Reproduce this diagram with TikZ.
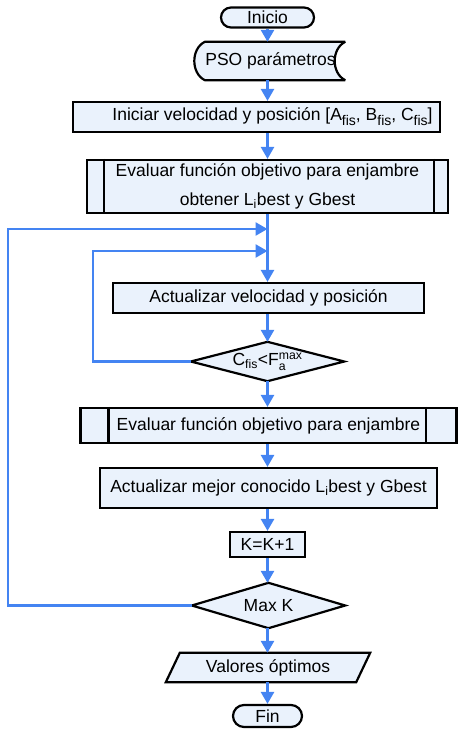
\documentclass[tikz,border=0pt]{standalone}
\usepackage{fontspec}
\usepackage{amsmath}
\setmainfont{Liberation Sans}
\usetikzlibrary{arrows.meta,calc,backgrounds}
\definecolor{boxfill}{RGB}{234,242,252}
\definecolor{arrowblue}{RGB}{68,132,242}
\newcommand\subx[1]{\raisebox{-0.28em}{\fontsize{14}{14}\selectfont #1}}
\tikzset{
 base/.style={inner sep=0pt, font=\fontsize{17.5}{21}\selectfont, align=center},
 box/.style={base, draw=black, line width=2.2pt, fill=boxfill},
 term/.style={box, rounded corners=10pt},
 ghost/.style={base},
 shapeline/.style={draw=black, line width=2.2pt, fill=boxfill, line join=miter},
 curveline/.style={draw=black, line width=2.2pt, fill=boxfill, line join=bevel},
 thinsep/.style={draw=black, line width=2.2pt},
 arr/.style={draw=arrowblue, line width=2.6pt, -{Triangle[width=13pt,length=12pt]}},
}
\begin{document}
\begin{tikzpicture}[x=1pt,y=-1pt]
\useasboundingbox (0,0) rectangle (474,737);
% nodes
\node[term, minimum width=93pt, minimum height=20pt] (ini) at (267.5,17.5) {Inicio};
\node[ghost, minimum width=153pt, minimum height=38pt] (pso) at (268.5,61) {\hspace*{4pt}PSO parámetros};
\node[box, minimum width=367pt, minimum height=30pt] (init) at (256.5,117) {};
\node[ghost] (initt) at (272.5,117) {Iniciar velocidad y posición [A\subx{fis}, B\subx{fis}, C\subx{fis}]};
\node[box, minimum width=361pt, minimum height=53pt, font=\fontsize{17.5}{29}\selectfont] (eval1) at (267.5,186.5) {Evaluar función objetivo para enjambre\\obtener L\textsubscript{i}best y Gbest};
\node[box, minimum width=311pt, minimum height=30pt] (act1) at (268.5,298) {Actualizar velocidad y posición};
\node[ghost, minimum width=153pt, minimum height=39pt] (dia1) at (267.5,361.5) {C$_\text{fis}$<F$_\text{a}^\text{max}$};
\node[box, minimum width=376pt, minimum height=35pt] (eval2) at (268.5,425.5) {Evaluar función objetivo para enjambre};
\node[box, minimum width=337pt, minimum height=40pt] (act2) at (268.5,488) {Actualizar mejor conocido L\textsubscript{i}best y Gbest};
\node[box, minimum width=75pt, minimum height=25pt] (kk) at (267.5,544.5) {K=K+1};
\node[ghost, minimum width=153pt, minimum height=45pt] (dia2) at (268.5,605.5) {Max K};
\node[ghost, minimum width=204pt, minimum height=29pt] (val) at (268,667.5) {Valores óptimos};
\node[term, minimum width=69pt, minimum height=22pt, rounded corners=11pt] (fin) at (267.5,716) {Fin};
% custom shapes
\begin{pgfonlayer}{background}
\draw[curveline] ($(pso.north west)+(13,0)$) -- (pso.north east)
  .. controls ($(pso.north east)+(-14,7)$) and ($(pso.south east)+(-14,-7)$) .. (pso.south east)
  -- ($(pso.south west)+(13,0)$)
  .. controls ($(pso.south west)+(-1,-7)$) and ($(pso.north west)+(-1,7)$) .. cycle;
\draw[shapeline] (dia1.north) -- (dia1.east) -- (dia1.south) -- (dia1.west) -- cycle;
\draw[shapeline] (dia2.north) -- (dia2.east) -- (dia2.south) -- (dia2.west) -- cycle;
\draw[shapeline] ($(val.north west)+(14,0)$) -- (val.north east) -- ($(val.south east)+(-14,0)$) -- (val.south west) -- cycle;
\end{pgfonlayer}
% predefined process bars
\draw[thinsep] ($(eval1.north west)+(18,0)$) -- ($(eval1.south west)+(18,0)$);
\draw[thinsep] ($(eval1.north east)+(-15,0)$) -- ($(eval1.south east)+(-15,0)$);
\draw[thinsep] ($(eval2.north west)+(29,0)$) -- ($(eval2.south west)+(29,0)$);
\draw[thinsep] ($(eval2.north east)+(-32,0)$) -- ($(eval2.south east)+(-32,0)$);
% connectors
\coordinate (j1) at (267.5,229);
\coordinate (j2) at (267.5,251);
\coordinate (l1) at (93,251);
\coordinate (l2) at (8,229);
\draw[arr] (ini.south) -- (ini.south |- pso.north);
\draw[arr] (ini.south |- pso.south) -- (ini.south |- init.north);
\draw[arr] (ini.south |- init.south) -- (eval1.north);
\draw[arr] (eval1.south) -- (eval1.south |- act1.north);
\draw[arr] (eval1.south |- act1.south) -- (dia1.north);
\draw[arr] (dia1.south) -- (dia1.south |- eval2.north);
\draw[arr] (dia1.south |- eval2.south) -- (dia1.south |- act2.north);
\draw[arr] (dia1.south |- act2.south) -- (kk.north);
\draw[arr] (kk.south) -- (kk.south |- dia2.north);
\draw[arr] (kk.south |- dia2.south) -- (kk.south |- val.north);
\draw[arr] (kk.south |- val.south) -- (fin.north);
\draw[arr] (dia1.west) -- (dia1.west -| l1) -- (l1) -- (j2);
\draw[arr] (dia2.west) -- (dia2.west -| l2) -- (l2) -- (j1);
\end{tikzpicture}
\end{document}
